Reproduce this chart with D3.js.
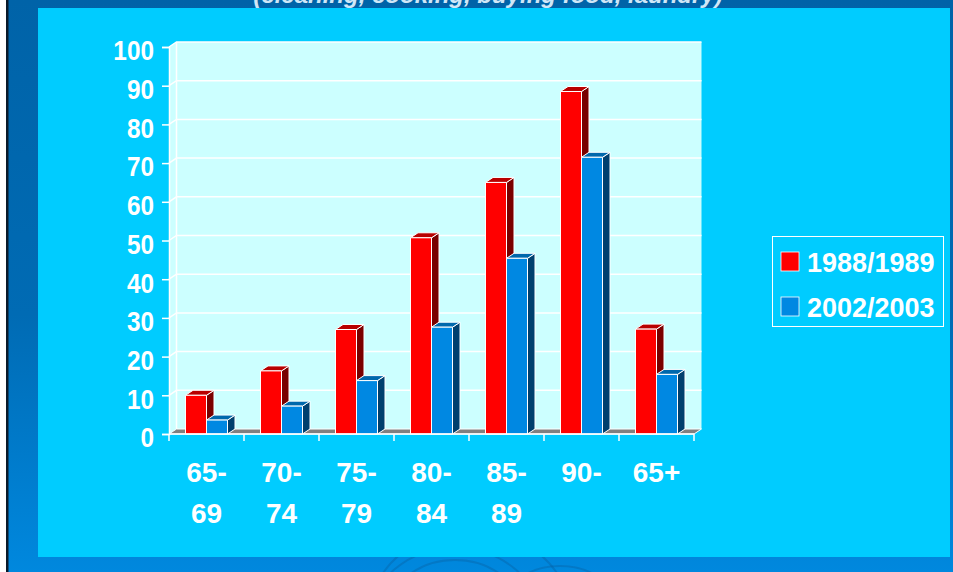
<!DOCTYPE html>
<html>
<head>
<meta charset="utf-8">
<script src="https://cdn.jsdelivr.net/npm/d3@7/dist/d3.min.js"></script>
<style>
  html, body { margin: 0; padding: 0; background: #0077c0; }
  svg { display: block; }
  text { font-family: "Liberation Sans", Arial, sans-serif; font-weight: bold; fill: #ffffff; }
</style>
</head>
<body>
<svg id="chart" width="953" height="572"></svg>
<script>
// Age groups and the share of people needing help with household chores (%)
const categories = ["65-69", "70-74", "75-79", "80-84", "85-89", "90-", "65+"];
const categoryLines = [["65-", "69"], ["70-", "74"], ["75-", "79"], ["80-", "84"], ["85-", "89"], ["90-"], ["65+"]];
const seriesNames = ["1988/1989", "2002/2003"];
const values1988 = [10, 16.3, 27, 50.7, 65, 88.5, 27.1];
const values2002 = [3.6, 7.2, 13.8, 27.6, 45.4, 71.5, 15.4];
const yTicks = [0, 10, 20, 30, 40, 50, 60, 70, 80, 90, 100];
const titleText = "(cleaning, cooking, buying food, laundry)";

const W = 953, H = 572;
const svg = d3.select("#chart");
const defs = svg.append("defs");

// Slide background
const bg = defs.append("linearGradient").attr("id", "bgGrad")
  .attr("x1", 0).attr("y1", 0).attr("x2", 0).attr("y2", 1);
bg.append("stop").attr("offset", "0%").attr("stop-color", "#0063a8");
bg.append("stop").attr("offset", "55%").attr("stop-color", "#006bb4");
bg.append("stop").attr("offset", "100%").attr("stop-color", "#0088de");
svg.append("rect").attr("width", W).attr("height", H).attr("fill", "url(#bgGrad)");

// faint swirl ornament at the bottom of the slide
const orn = svg.append("g").attr("fill", "none").attr("stroke", "#0a5c9c").attr("stroke-opacity", 0.35).attr("stroke-width", 2);
[[455, 620, 70, 60], [455, 620, 85, 72], [470, 615, 100, 85], [560, 600, 40, 26], [560, 600, 52, 34]].forEach(e => {
  orn.append("ellipse").attr("cx", e[0]).attr("cy", e[1]).attr("rx", e[2]).attr("ry", e[3]);
});

// left edge of the slide frame
svg.append("rect").attr("x", 0).attr("y", 0).attr("width", 6).attr("height", H).attr("fill", "#ffffff");
svg.append("rect").attr("x", 6).attr("y", 0).attr("width", 2.5).attr("height", H).attr("fill", "#0a1a2a");

// title line (runs off the top edge)
svg.append("text").attr("x", 488).attr("y", 3)
  .attr("text-anchor", "middle")
  .style("font-size", "24px").style("font-style", "italic")
  .style("fill", "#cfe7f7")
  .text(titleText);

// chart panel
svg.append("rect").attr("x", 38).attr("y", 8).attr("width", 912).attr("height", 549).attr("fill", "#00ccff");

// scales
const x0 = 169, x1 = 694, yBase = 434, yTop = 47;
const dx = 7.5, dy = 5;
const x = d3.scaleBand().domain(categories).range([x0, x1]).paddingInner(0).paddingOuter(0);
const y = d3.scaleLinear().domain([0, 100]).range([yBase, yTop]);

const plot = svg.append("g");

// back wall and side wall
plot.append("rect")
  .attr("x", x0 + dx).attr("y", y(100) - dy)
  .attr("width", x1 - x0).attr("height", y(0) - y(100))
  .attr("fill", "#ccffff");
plot.append("polygon")
  .attr("points", [[x0, y(100)], [x0 + dx, y(100) - dy], [x0 + dx, y(0) - dy], [x0, y(0)]].map(p => p.join(",")).join(" "))
  .attr("fill", "#ccffff");

// gridlines on the walls
const grid = plot.append("g").attr("stroke", "#ffffff").attr("stroke-width", 1.5).attr("fill", "none");
yTicks.filter(v => v > 0).forEach(v => {
  grid.append("path").attr("d", `M${x0},${y(v)} L${x0 + dx},${y(v) - dy} L${x1 + dx},${y(v) - dy}`);
});
grid.append("line").attr("x1", x0 + dx).attr("x2", x0 + dx).attr("y1", y(100) - dy).attr("y2", y(0) - dy);

// floor
plot.append("polygon")
  .attr("points", [[x0, y(0)], [x0 + dx, y(0) - dy], [x1 + dx, y(0) - dy], [x1, y(0)]].map(p => p.join(",")).join(" "))
  .attr("fill", "#808080").attr("stroke", "#ffffff").attr("stroke-width", 1);

// 3D bars
const barW = 21;
const series = [
  { name: seriesNames[0], values: values1988, front: "#ff0000", top: "#b80000", side: "#7a0000" },
  { name: seriesNames[1], values: values2002, front: "#0088e2", top: "#0068ac", side: "#00406e" }
];
const barsG = plot.append("g").attr("stroke", "#ffffff").attr("stroke-width", 1).attr("stroke-linejoin", "round");
categories.forEach((c, i) => {
  const gx = x(c) + (x.bandwidth() - barW * series.length) / 2;
  series.forEach((s, k) => {
    const bx = gx + k * barW;
    const yt = y(s.values[i]);
    const b = barsG.append("g");
    b.append("polygon")
      .attr("points", [[bx + barW, yt], [bx + barW + dx, yt - dy], [bx + barW + dx, y(0) - dy], [bx + barW, y(0)]].map(p => p.join(",")).join(" "))
      .attr("fill", s.side);
    b.append("polygon")
      .attr("points", [[bx, yt], [bx + dx, yt - dy], [bx + barW + dx, yt - dy], [bx + barW, yt]].map(p => p.join(",")).join(" "))
      .attr("fill", s.top);
    b.append("rect").attr("x", bx).attr("y", yt).attr("width", barW).attr("height", y(0) - yt)
      .attr("fill", s.front);
  });
});

// y axis
const yAxis = d3.axisLeft(y).tickValues(yTicks).tickSize(7).tickPadding(8).tickFormat(d3.format("d"));
const yg = svg.append("g").attr("transform", `translate(${x0},0)`).call(yAxis);
yg.select(".domain").attr("stroke", "#ffffff").attr("stroke-width", 1.5);
yg.selectAll(".tick line").attr("stroke", "#ffffff").attr("stroke-width", 1.5);
yg.selectAll(".tick text")
  .attr("fill", "#ffffff").attr("dy", "0.46em")
  .style("font-size", "28px").style("font-family", "'Liberation Sans', Arial, sans-serif").style("font-weight", "bold")
  .each(function () {
    const len = this.getComputedTextLength();
    d3.select(this).attr("textLength", len * 0.87).attr("lengthAdjust", "spacingAndGlyphs");
  });

// x axis: line along the front of the floor, ticks at category edges
const xa = svg.append("g").attr("stroke", "#ffffff").attr("stroke-width", 1.5);
xa.append("line").attr("x1", x0).attr("x2", x1).attr("y1", y(0)).attr("y2", y(0));
categories.concat([null]).forEach((c, i) => {
  const tx = c === null ? x1 : x(c);
  xa.append("line").attr("x1", tx).attr("x2", tx).attr("y1", y(0)).attr("y2", y(0) + 7);
});

// category labels
const xl = svg.append("g");
categories.forEach((c, i) => {
  const t = xl.append("text")
    .attr("x", x(c) + x.bandwidth() / 2).attr("y", 482)
    .attr("text-anchor", "middle").style("font-size", "28px");
  categoryLines[i].forEach((ln, j) => {
    t.append("tspan").attr("x", x(c) + x.bandwidth() / 2).attr("y", 482 + j * 41).text(ln);
  });
});

// legend
const lg = svg.append("g");
lg.append("rect").attr("x", 772.5).attr("y", 236.5).attr("width", 171).attr("height", 90)
  .attr("fill", "none").attr("stroke", "#ffffff").attr("stroke-width", 1);
series.forEach((s, k) => {
  const ly = 252 + k * 45;
  lg.append("rect").attr("x", 781).attr("y", ly).attr("width", 18).attr("height", 19)
    .attr("fill", s.front).attr("stroke", "#ffffff").attr("stroke-width", 0.8);
  lg.append("text").attr("x", 807).attr("y", ly + 20).style("font-size", "27px").text(s.name);
});
</script>
</body>
</html>
